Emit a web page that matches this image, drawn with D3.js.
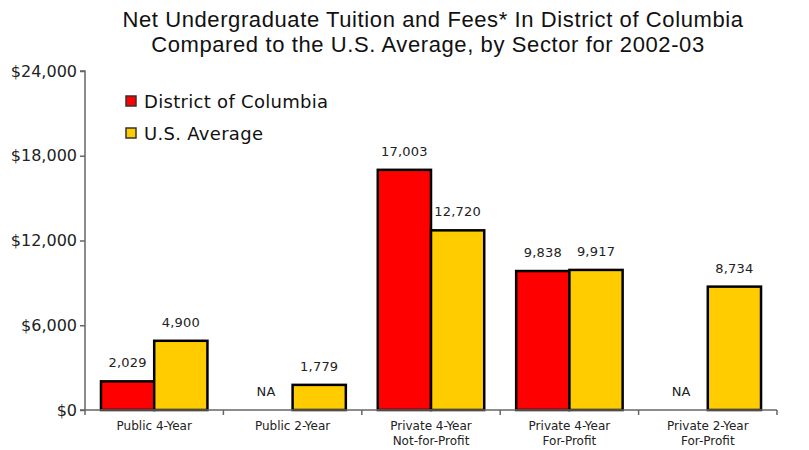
<!DOCTYPE html>
<html>
<head>
<meta charset="utf-8">
<script src="https://cdn.jsdelivr.net/npm/d3@7"></script>
<style>
  body { margin: 0; background: #fff; }
  svg { display: block; }
</style>
</head>
<body>
<svg id="vis" width="809" height="450"></svg>
<script>
// chart data
var sectors = [["Public 4-Year"], ["Public 2-Year"], ["Private 4-Year", "Not-for-Profit"], ["Private 4-Year", "For-Profit"], ["Private 2-Year", "For-Profit"]];
var series = ["District of Columbia", "U.S. Average"];
var dcValues = [2029, null, 17003, 9838, null];
var usValues = [4900, 1779, 12720, 9917, 8734];
var yTicks = [0, 6000, 12000, 18000, 24000];
var colors = ["#ff0000", "#ffcc00"];

var svg = d3.select("#vis");
// plot edges (note: "top" is taken by window, so use plot* names)
var plotLeft = 85, plotRight = 777, plotTop = 71, plotBottom = 410;
var font = "'DejaVu Sans', Verdana, sans-serif";

var x0 = d3.scaleBand().domain(d3.range(sectors.length)).range([plotLeft, plotRight]).padding(0);
var x1 = d3.scaleBand().domain(series).range([0, x0.bandwidth()]).paddingInner(0).paddingOuter(0.3);
var y = d3.scaleLinear().domain([0, 24000]).range([plotBottom, plotTop]);

// title
var title = svg.append("text")
    .attr("x", 433)
    .attr("text-anchor", "middle")
    .attr("font-family", "'Liberation Sans Narrow', 'Liberation Sans', Arial, sans-serif")
    .attr("font-size", "22px")
    .attr("letter-spacing", "0.6px")
    .attr("fill", "#111");
title.append("tspan").attr("x", 433).attr("y", 27).text("Net Undergraduate Tuition and Fees* In District of Columbia");
title.append("tspan").attr("x", 428).attr("y", 52).text("Compared to the U.S. Average, by Sector for 2002-03");

// rows of bars
var rows = d3.range(sectors.length).map(i => [
    { s: series[0], v: dcValues[i] },
    { s: series[1], v: usValues[i] }
]);

var groups = svg.selectAll(".sector").data(rows).enter().append("g")
    .attr("class", "sector")
    .attr("transform", (d, i) => `translate(${x0(i)},0)`);

groups.selectAll("rect").data(d => d.filter(b => b.v != null)).enter().append("rect")
    .attr("x", d => x1(d.s))
    .attr("y", d => y(d.v))
    .attr("width", x1.bandwidth())
    .attr("height", d => plotBottom - y(d.v))
    .attr("fill", d => colors[series.indexOf(d.s)])
    .attr("stroke", "#000")
    .attr("stroke-width", 2.5);

groups.selectAll(".val").data(d => d).enter().append("text")
    .attr("class", "val")
    .attr("x", d => x1(d.s) + x1.bandwidth() / 2)
    .attr("y", d => (d.v == null ? plotBottom : y(d.v)) - 14)
    .attr("text-anchor", "middle")
    .attr("font-family", font)
    .attr("font-size", "13px")
    .attr("letter-spacing", "0.2px")
    .attr("fill", "#222")
    .text(d => d.v == null ? "NA" : d3.format(",")(d.v));

// y axis
var yAxis = svg.append("g")
    .attr("transform", `translate(${plotLeft},0)`)
    .call(d3.axisLeft(y).tickValues(yTicks).tickSize(5).tickPadding(3).tickFormat(d => "$" + d3.format(",")(d)));
yAxis.select(".domain").attr("stroke", "#666").attr("stroke-width", 1.5).attr("d", `M-5,${plotTop}H0V${plotBottom}H-5`);
yAxis.selectAll(".tick line").attr("stroke", "#666").attr("stroke-width", 1.5);
yAxis.selectAll(".tick text").attr("font-family", font).attr("font-size", "16px").attr("fill", "#222");

// x axis
var xAxis = svg.append("g").attr("transform", `translate(0,${plotBottom})`);
xAxis.append("line").attr("x1", plotLeft).attr("x2", plotRight).attr("stroke", "#666").attr("stroke-width", 1.5);
xAxis.selectAll(".xt").data(d3.range(sectors.length + 1)).enter().append("line")
    .attr("x1", i => plotLeft + i * x0.step()).attr("x2", i => plotLeft + i * x0.step())
    .attr("y1", 0).attr("y2", 5)
    .attr("stroke", "#666").attr("stroke-width", 1.5);
var xl = xAxis.selectAll(".xl").data(sectors).enter().append("text")
    .attr("text-anchor", "middle")
    .attr("font-family", font)
    .attr("font-size", "12px")
    .attr("fill", "#222");
xl.selectAll("tspan").data((d, i) => d.map(t => ({ t: t, i: i }))).enter().append("tspan")
    .attr("x", d => x0(d.i) + x0.bandwidth() / 2)
    .attr("y", (d, j) => 20 + j * 15)
    .text(d => d.t);

// legend
var legend = svg.selectAll(".legend").data(series).enter().append("g")
    .attr("transform", (d, i) => `translate(126,${96 + i * 32})`);
legend.append("rect").attr("width", 10).attr("height", 10)
    .attr("fill", (d, i) => colors[i]).attr("stroke", "#333").attr("stroke-width", 1.5);
legend.append("text").attr("x", 18).attr("y", 12)
    .attr("font-family", font).attr("font-size", "18px").attr("letter-spacing", "0.3px").attr("fill", "#111")
    .text(d => d);
</script>
</body>
</html>
